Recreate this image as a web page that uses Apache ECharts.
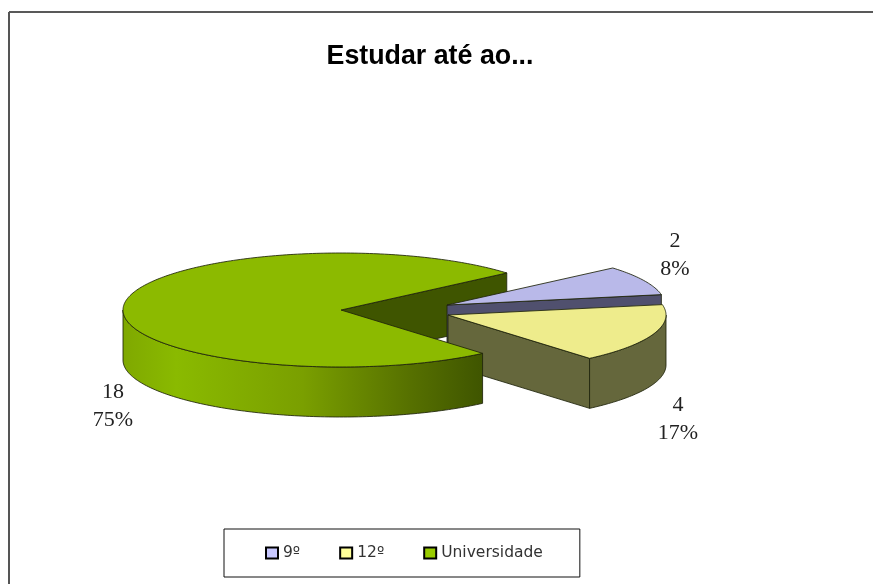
<!DOCTYPE html>
<html>
<head>
<meta charset="utf-8">
<style>
html, body { margin: 0; padding: 0; background: #fff; }
#chart { width: 873px; height: 584px; filter: blur(0.4px); }
</style>
<script src="https://cdn.jsdelivr.net/npm/echarts@6/dist/echarts.min.js"></script>
</head>
<body>
<div id="chart"></div>
<script>
var categories = ["9º", "12º", "Universidade"];
var values = [2, 4, 18];
var percents = ["8%", "17%", "75%"];

var topColors = ["#b9b9e9", "#eeec8c", "#8cba00"];
var sideColors = ["#50506e", "#65673c", "#3f5500"];
var legendColors = ["#c8c8ff", "#ffff99", "#99cc00"];

// exploded pie: each slice has its own centre, all share the same ellipse
var centers = [[447, 305], [448, 315], [341, 310]];
var labelPos = [[675, 255], [678, 419], [113, 406]];
var rx = 218, ry = 57, depth = 50;
var startAngle = 49.5; // clockwise from 12 o'clock
var total = values.reduce(function (a, b) { return a + b; }, 0);
var lineColor = "rgba(30,35,10,0.85)";

// paint order is shared by all series: green cut face at the back,
// then 9º, then 12º, and the rest of the green slice in front of them
var faceLayer = [3, 6, 1];
var wallLayer = [4, 7, 9];
var topLayer = [5, 8, 10];

function pt(c, deg, dy) {
  var a = deg * Math.PI / 180;
  return [c[0] + rx * Math.sin(a), c[1] - ry * Math.cos(a) + (dy || 0)];
}

function arc(c, from, to, dy) {
  var pts = [];
  var n = Math.max(2, Math.ceil(Math.abs(to - from)));
  for (var i = 0; i <= n; i++) pts.push(pt(c, from + (to - from) * i / n, dy));
  return pts;
}

function poly(points, fill, z2) {
  return {
    type: "polygon",
    z2: z2,
    shape: { points: points },
    style: { fill: fill, stroke: lineColor, lineWidth: 1 }
  };
}

function sideFill(i) {
  if (i !== 2) return sideColors[i];
  return new echarts.graphic.LinearGradient(0, 0, 1, 0, [
    { offset: 0, color: "#7fa800" },
    { offset: 0.15, color: "#8aba00" },
    { offset: 0.5, color: "#7a9f00" },
    { offset: 0.8, color: "#567000" },
    { offset: 1, color: "#3f5500" }
  ]);
}

function cutFace(i, deg) {
  var c = centers[i];
  var e = pt(c, deg);
  return poly([c, e, [e[0], e[1] + depth], [c[0], c[1] + depth]], sideColors[i], faceLayer[i]);
}

function renderSlice(i) {
  var before = values.slice(0, i).reduce(function (a, b) { return a + b; }, 0);
  var from = startAngle + before / total * 360;
  var to = from + values[i] / total * 360;
  var c = centers[i];
  var children = [];

  // the closing cut shows on the right half, the opening cut on the left half
  if (to % 360 < 180) children.push(cutFace(i, to % 360));
  if (from % 360 > 180) children.push(cutFace(i, from % 360));

  // outer wall, only the front half of the ellipse shows
  var wallFrom = Math.max(from, 90), wallTo = Math.min(to, 270);
  if (wallTo > wallFrom) {
    var upper = arc(c, wallFrom, wallTo, 0);
    var lower = arc(c, wallTo, wallFrom, depth);
    children.push(poly(upper.concat(lower), sideFill(i), wallLayer[i]));
  }
  // top surface
  children.push(poly([c].concat(arc(c, from, to, 0)), topColors[i], topLayer[i]));

  children.push({
    type: "text",
    z2: 11,
    style: {
      x: labelPos[i][0],
      y: labelPos[i][1],
      text: values[i] + "\n" + percents[i],
      fill: "#222",
      font: "22px 'Liberation Serif'",
      lineHeight: 28,
      align: "center",
      verticalAlign: "middle"
    }
  });
  return { type: "group", children: children };
}

var series = categories.map(function (name, i) {
  return {
    name: name,
    type: "custom",
    coordinateSystem: "none",
    itemStyle: { color: legendColors[i] },
    renderItem: function () { return renderSlice(i); },
    data: [values[i]],
    silent: true
  };
});

var chart = echarts.init(document.getElementById("chart"));
chart.setOption({
  animation: false,
  backgroundColor: "#fff",
  title: {
    text: "Estudar até ao...",
    left: 425,
    top: 38,
    textAlign: "center",
    textStyle: { fontFamily: "Liberation Sans", fontSize: 26.8, fontWeight: "bold", color: "#000" }
  },
  legend: {
    data: categories,
    left: 224,
    top: 529,
    orient: "horizontal",
    icon: "rect",
    itemWidth: 12,
    itemHeight: 11,
    itemGap: 39,
    padding: [16, 37, 16, 41],
    borderColor: "#111",
    borderWidth: 1,
    selectedMode: false,
    itemStyle: { borderColor: "#000", borderWidth: 2 },
    textStyle: { fontFamily: "DejaVu Sans", fontSize: 15.5, color: "#333" }
  },
  graphic: [{
    type: "line",
    silent: true,
    shape: { x1: 9, y1: 12, x2: 873, y2: 12 },
    style: { stroke: "#222", lineWidth: 1.5 }
  }, {
    type: "line",
    silent: true,
    shape: { x1: 9, y1: 12, x2: 9, y2: 584 },
    style: { stroke: "#555", lineWidth: 2 }
  }],
  series: series
});
</script>
</body>
</html>
